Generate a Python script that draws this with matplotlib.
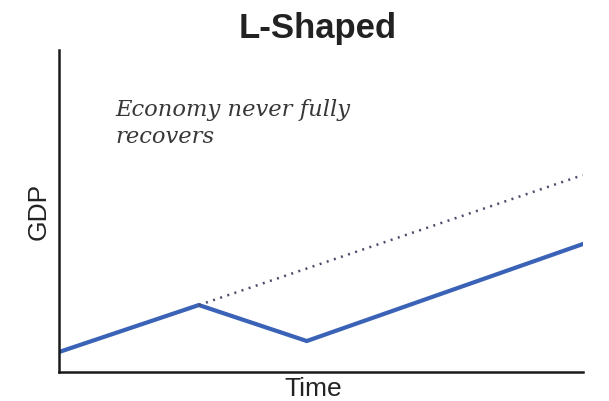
import matplotlib
import matplotlib.pyplot as plt

matplotlib.use("Agg")

# GDP path (arbitrary units)
time_actual = [0, 2.67, 4.73, 10]
gdp_actual = [20, 67, 31, 128]

# Pre-recession trend the economy never returns to
time_trend = [2.67, 10]
gdp_trend = [67, 197]

fig = plt.figure(figsize=(6.09, 4.01), dpi=100)
ax = fig.add_axes([0.0969, 0.0723, 0.8601, 0.8027])

ax.plot(time_actual, gdp_actual, color="#3a62b6", linewidth=3.0, solid_joinstyle="miter")
ax.plot(time_trend, gdp_trend, color="#4a4d6c", linewidth=1.8, linestyle=(0, (0.8, 2.2)))

ax.set_xlim(0, 10)
ax.set_ylim(0, 322)

for side in ["top", "right"]:
    ax.spines[side].set_visible(False)
for side in ["left", "bottom"]:
    ax.spines[side].set_linewidth(1.8)
    ax.spines[side].set_color("#1a1a1a")
ax.set_xticks([])
ax.set_yticks([])

# axis labels placed by hand so "Time" sits clear of the axis line
fig.text(0.514, 0.012, "Time", ha="center", va="baseline", fontsize=19,
         family="Liberation Sans", color="#222222")
ax.set_ylabel("GDP", fontsize=19, family="Liberation Sans", color="#222222", labelpad=6)

fig.text(0.521, 0.93, "L-Shaped", ha="center", va="center", fontsize=25,
         fontweight="bold", family="Liberation Sans", color="#222222")

ax.text(1.07, 273, "Economy never fully\nrecovers", fontsize=16.3, style="italic",
        family="DejaVu Serif", color="#383838", va="top", ha="left", linespacing=1.3)

plt.savefig("out.png", dpi=100, facecolor="white")
plt.close()
